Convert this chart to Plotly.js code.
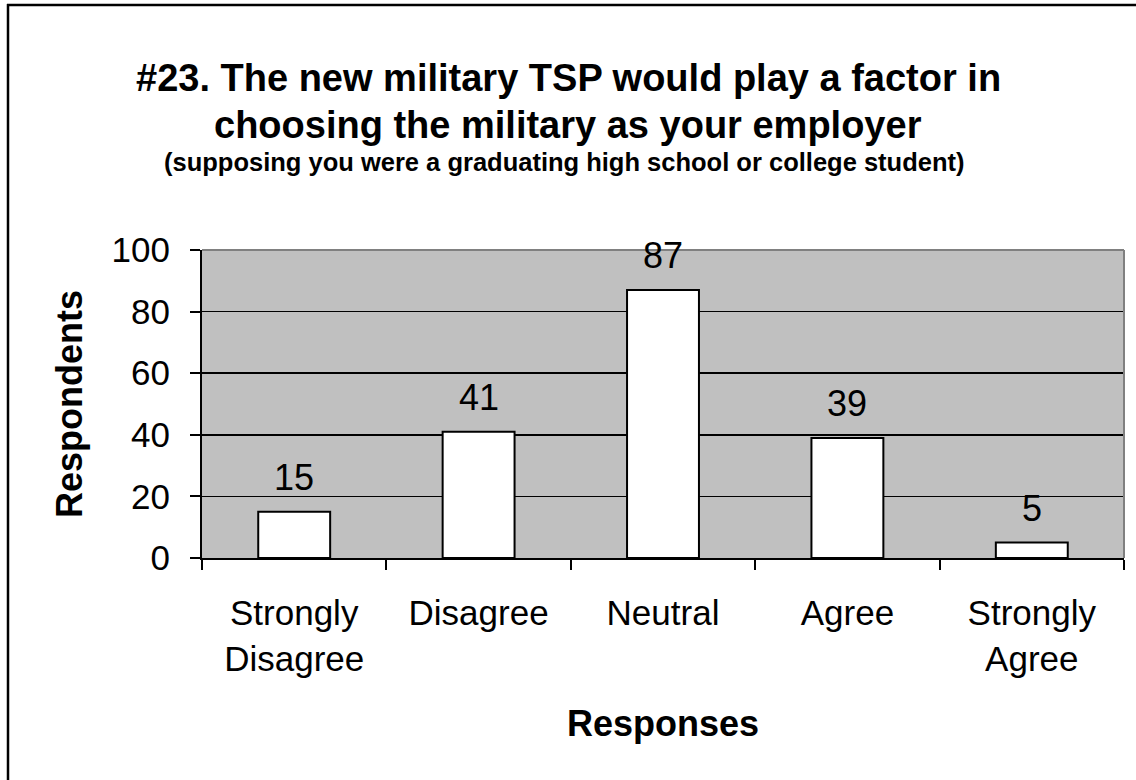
<!DOCTYPE html>
<html>
<head>
<meta charset="utf-8">
<script src="https://cdn.plot.ly/plotly-3.0.1.min.js"></script>
<style>html,body{margin:0;padding:0;background:#fff;}#chart{width:1136px;height:780px;}</style>
</head>
<body>
<div id="chart"></div>
<script>
var categories = ["Strongly<br>Disagree", "Disagree", "Neutral", "Agree", "Strongly<br>Agree"];
var respondents = [15, 41, 87, 39, 5];
var yTickValues = [0, 20, 40, 60, 80, 100];
var titleLine1 = "#23. The new military TSP would play a factor in";
var titleLine2 = "choosing the military as your employer";
var subtitle = "(supposing you were a graduating high school or college student)";
var xTitle = "Responses";
var yTitle = "Respondents";

var FONT = "Liberation Sans, Arial, sans-serif";

var W = 1136, H = 780, L = 202, R = 12, T = 250, B = 222;
var pw = W - L - R, ph = H - T - B;
function px(x) { return (x - L) / pw; }
function py(y) { return (H - B - y) / ph; }

var trace = {
  type: "bar",
  x: categories,
  y: respondents,
  width: 0.39,
  marker: { color: "#ffffff", line: { color: "#000000", width: 2 } },
  hoverinfo: "none"
};

var annotations = respondents.map(function (v, i) {
  return {
    x: categories[i], y: v, xref: "x", yref: "y",
    text: String(v), showarrow: false, yanchor: "bottom", yshift: 12,
    font: { family: FONT, size: 36, color: "#000" }
  };
});
annotations.push(
  { xref: "paper", yref: "paper", x: px(568), y: py(78), text: "<b>" + titleLine1 + "</b>", showarrow: false,
    xanchor: "center", yanchor: "middle", font: { family: FONT, size: 38, color: "#000" } },
  { xref: "paper", yref: "paper", x: px(568), y: py(125), text: "<b>" + titleLine2 + "</b>", showarrow: false,
    xanchor: "center", yanchor: "middle", font: { family: FONT, size: 38, color: "#000" } },
  { xref: "paper", yref: "paper", x: px(564), y: py(162), text: "<b>" + subtitle + "</b>", showarrow: false,
    xanchor: "center", yanchor: "middle", font: { family: FONT, size: 25.5, color: "#000" } }
);

var layout = {
  width: W, height: H,
  margin: { l: L, r: R, t: T, b: B, pad: 0 },
  paper_bgcolor: "#ffffff",
  plot_bgcolor: "#c0c0c0",
  showlegend: false,
  font: { family: FONT, color: "#000" },
  xaxis: {
    type: "category",
    showline: true, linecolor: "#000", linewidth: 2,
    ticks: "outside", ticklen: 10, tickwidth: 2, tickcolor: "#000",
    tickson: "boundaries",
    showgrid: false,
    tickfont: { family: FONT, size: 35, color: "#000" },
    ticklabelstandoff: 23,
    title: { text: "<b>" + xTitle + "</b>", font: { family: FONT, size: 36, color: "#000" }, standoff: 34 },
    fixedrange: true
  },
  yaxis: {
    range: [0, 100],
    tickvals: yTickValues,
    showline: true, linecolor: "#000", linewidth: 2,
    ticks: "outside", ticklen: 10, tickwidth: 2, tickcolor: "#000",
    showgrid: true, gridcolor: "#000", gridwidth: 1.5,
    zeroline: false,
    tickfont: { family: FONT, size: 35, color: "#000" },
    ticklabelstandoff: 13,
    title: { text: "<b>" + yTitle + "</b>", font: { family: FONT, size: 36, color: "#000" }, standoff: 18 },
    fixedrange: true
  },
  annotations: annotations,
  shapes: [
    { type: "line", xref: "paper", yref: "paper", x0: 0, x1: 1, y0: 1, y1: 1, line: { color: "#808080", width: 2 } },
    { type: "line", xref: "paper", yref: "paper", x0: 1, x1: 1, y0: 0, y1: 1, line: { color: "#808080", width: 2 } },
    { type: "line", xref: "paper", yref: "paper", x0: px(8), x1: px(8), y0: py(4), y1: py(800), line: { color: "#000", width: 2.5 } },
    { type: "line", xref: "paper", yref: "paper", x0: px(7), x1: px(1200), y0: py(5), y1: py(5), line: { color: "#000", width: 2.5 } }
  ]
};

Plotly.newPlot("chart", [trace], layout, { displayModeBar: false, staticPlot: true });
</script>
</body>
</html>
